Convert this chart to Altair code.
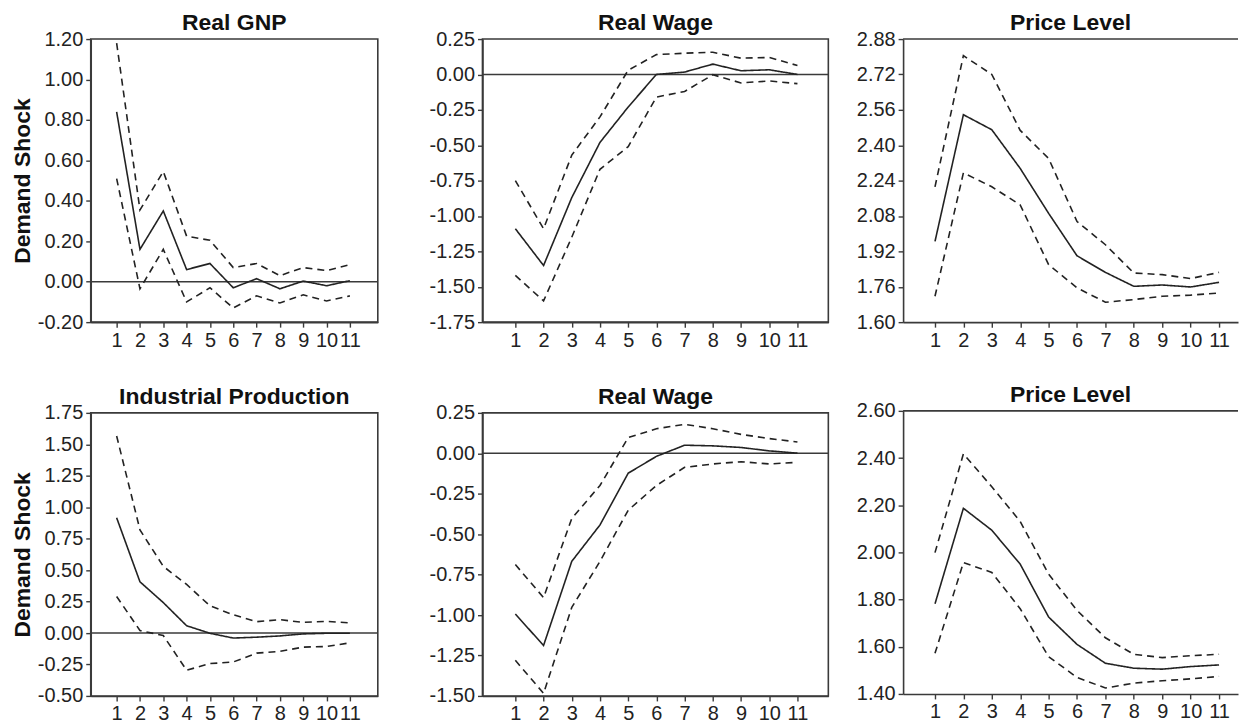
import altair as alt
import pandas as pd

steps = list(range(1, 12))

# Real GNP (top-left)
gnp_mid = [0.84, 0.16, 0.35, 0.06, 0.09, -0.03, 0.015, -0.035, 0.003, -0.02, 0.005]
gnp_up = [1.18, 0.355, 0.545, 0.225, 0.205, 0.07, 0.09, 0.03, 0.07, 0.055, 0.085]
gnp_lo = [0.51, -0.035, 0.16, -0.10, -0.03, -0.13, -0.07, -0.105, -0.065, -0.095, -0.07]

# Real Wage (top-middle)
rw1_mid = [-1.09, -1.35, -0.87, -0.48, -0.23, 0.0, 0.017, 0.073, 0.026, 0.033, 0.0]
rw1_up = [-0.75, -1.09, -0.57, -0.30, 0.03, 0.14, 0.15, 0.157, 0.115, 0.12, 0.063]
rw1_lo = [-1.42, -1.60, -1.15, -0.67, -0.51, -0.16, -0.12, -0.002, -0.06, -0.046, -0.065]

# Price Level (top-right)
pl1_mid = [1.965, 2.538, 2.47, 2.295, 2.092, 1.90, 1.825, 1.762, 1.768, 1.759, 1.78]
pl1_up = [2.212, 2.805, 2.72, 2.467, 2.34, 2.055, 1.95, 1.822, 1.815, 1.797, 1.825]
pl1_lo = [1.717, 2.275, 2.212, 2.13, 1.86, 1.755, 1.69, 1.702, 1.717, 1.722, 1.732]

# Industrial Production (bottom-left)
ip_mid = [0.916, 0.407, 0.242, 0.058, -0.002, -0.04, -0.033, -0.023, -0.007, -0.002, -0.002]
ip_up = [1.566, 0.82, 0.53, 0.386, 0.216, 0.145, 0.09, 0.106, 0.085, 0.093, 0.08]
ip_lo = [0.29, 0.02, -0.02, -0.296, -0.243, -0.23, -0.16, -0.146, -0.112, -0.107, -0.078]

# Real Wage (bottom-middle)
rw2_mid = [-0.994, -1.188, -0.668, -0.443, -0.123, -0.019, 0.05, 0.046, 0.036, 0.015, 0.001]
rw2_up = [-0.688, -0.892, -0.403, -0.199, 0.097, 0.152, 0.179, 0.152, 0.117, 0.091, 0.07]
rw2_lo = [-1.28, -1.484, -0.953, -0.668, -0.352, -0.199, -0.087, -0.066, -0.052, -0.066, -0.056]

# Price Level (bottom-right)
pl2_mid = [1.782, 2.187, 2.094, 1.95, 1.726, 1.61, 1.53, 1.509, 1.505, 1.516, 1.523]
pl2_up = [1.999, 2.418, 2.278, 2.131, 1.908, 1.754, 1.638, 1.568, 1.554, 1.562, 1.568]
pl2_lo = [1.572, 1.957, 1.915, 1.761, 1.558, 1.47, 1.425, 1.446, 1.456, 1.464, 1.474]

gnp_ticks = [-0.20, 0.00, 0.20, 0.40, 0.60, 0.80, 1.00, 1.20]
rw1_ticks = [-1.75, -1.50, -1.25, -1.00, -0.75, -0.50, -0.25, 0.00, 0.25]
pl1_ticks = [1.60, 1.76, 1.92, 2.08, 2.24, 2.40, 2.56, 2.72, 2.88]
ip_ticks = [-0.50, -0.25, 0.00, 0.25, 0.50, 0.75, 1.00, 1.25, 1.50, 1.75]
rw2_ticks = [-1.50, -1.25, -1.00, -0.75, -0.50, -0.25, 0.00, 0.25]
pl2_ticks = [1.40, 1.60, 1.80, 2.00, 2.20, 2.40, 2.60]

FONT = "Arial, Liberation Sans, Helvetica, sans-serif"
INK = "#222222"
BORDER = "#3a3a3a"

XDOM = [[-0.111, 12.197], [-0.166, 12.095], [-0.123, 11.667]]
WIDTHS = [288, 347, 336]
HTOP = 284
HBOT = 284

YLABEL = "replace(format(datum.value, '.2f'), '\u2212', '-')"


def panel(title, mid, up, lo, ticks, col, height, ytitle=None, zero=True):
    df = pd.DataFrame({
        "step": steps * 3,
        "value": mid + up + lo,
        "band": ["mid"] * 11 + ["upper"] * 11 + ["lower"] * 11,
    })
    ydom = [ticks[0], ticks[-1]]
    x = alt.X("step:Q",
              scale=alt.Scale(domain=XDOM[col], nice=False, zero=False),
              axis=alt.Axis(values=steps, format="d", title=None, grid=False,
                            labelFlush=False))
    yaxis_kw = dict(values=ticks, labelExpr=YLABEL, grid=False)
    if ytitle:
        yaxis_kw.update(title=ytitle, titleFontSize=23, titleFontWeight="bold",
                        titlePadding=3, titleColor="#111111")
    else:
        yaxis_kw.update(title=None)
    y = alt.Y("value:Q",
              scale=alt.Scale(domain=ydom, nice=False, zero=False),
              axis=alt.Axis(**yaxis_kw))
    lines = alt.Chart(df).mark_line(color=INK, strokeWidth=1.6).encode(
        x=x, y=y,
        detail="band:N",
        strokeDash=alt.StrokeDash(
            "band:N",
            scale=alt.Scale(domain=["mid", "upper", "lower"],
                            range=[[1, 0], [7, 5], [7, 5]]),
            legend=None),
    )
    layers = []
    if zero:
        zdf = pd.DataFrame({"value": [0.0]})
        layers.append(alt.Chart(zdf).mark_rule(color=BORDER, strokeWidth=1.6).encode(y=y))
    if col == 2:
        tdf = pd.DataFrame({"value": [ydom[1]]})
        layers.append(alt.Chart(tdf).mark_rule(color=BORDER, strokeWidth=1.6).encode(y=y))
    layers.append(lines)
    ch = alt.layer(*layers).properties(
        title=title, width=WIDTHS[col], height=height)
    if col == 2:
        ch = ch.properties(view=alt.ViewBackground(stroke=None))
    return ch


p1 = panel("Real GNP", gnp_mid, gnp_up, gnp_lo, gnp_ticks, 0, HTOP, ytitle="Demand Shock")
p2 = panel("Real Wage", rw1_mid, rw1_up, rw1_lo, rw1_ticks, 1, HTOP)
p3 = panel("Price Level", pl1_mid, pl1_up, pl1_lo, pl1_ticks, 2, HTOP, zero=False)
p4 = panel("Industrial Production", ip_mid, ip_up, ip_lo, ip_ticks, 0, HBOT, ytitle="Demand Shock")
p5 = panel("Real Wage", rw2_mid, rw2_up, rw2_lo, rw2_ticks, 1, HBOT)
p6 = panel("Price Level", pl2_mid, pl2_up, pl2_lo, pl2_ticks, 2, HBOT, zero=False)

VS = 34
col1 = alt.vconcat(p1, p4, spacing=VS)
col2 = alt.vconcat(p2, p5, spacing=VS)
col3 = alt.vconcat(p3, p6, spacing=VS)

chart = alt.hconcat(col1, alt.hconcat(col2, col3, spacing=26), spacing=48).properties(
    padding={"left": 2, "top": 2, "right": 0, "bottom": 0},
    background="white",
).configure_view(
    stroke=BORDER, strokeWidth=1.6
).configure_axis(
    labelFont=FONT, titleFont=FONT, labelFontSize=20, labelColor=INK,
    tickColor=BORDER, tickSize=5, tickWidth=1.4, labelPadding=3,
    domainColor=BORDER, domainWidth=1.6,
).configure_title(
    font=FONT, fontSize=23, fontWeight="bold", color="#111111", offset=-6,
    anchor="middle", frame="group",
)

chart.save("out.html", embed_options={"renderer": "svg", "actions": False})
